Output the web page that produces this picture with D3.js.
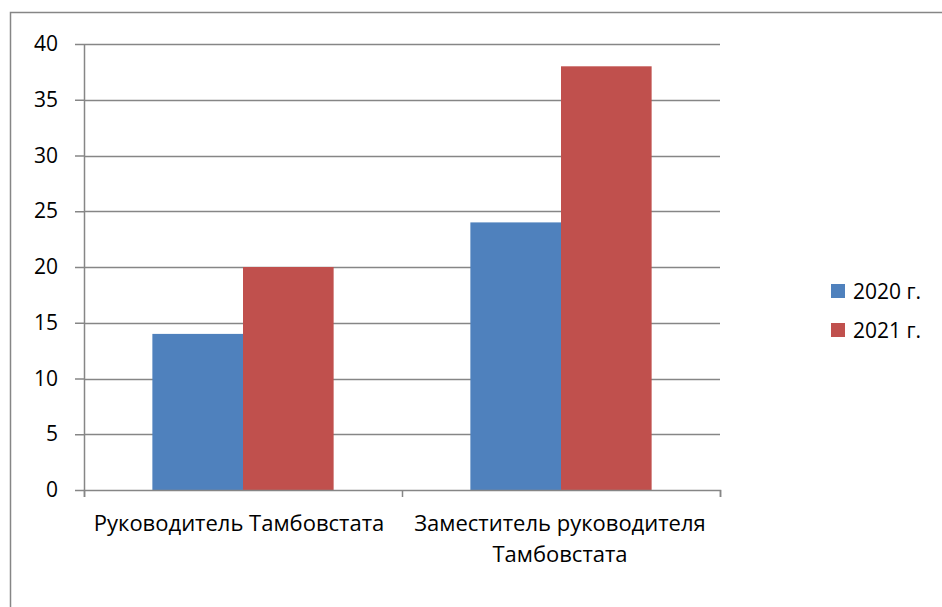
<!DOCTYPE html>
<html>
<head>
<meta charset="utf-8">
<script src="https://cdn.jsdelivr.net/npm/d3@7"></script>
<style>
  body { margin: 0; background: #fff; }
  text { font-family: "Open Sans", "DejaVu Sans", sans-serif; fill: #000; }
</style>
</head>
<body>
<div id="chart"></div>
<script>
const categories = [["Руководитель Тамбовстата"], ["Заместитель руководителя", "Тамбовстата"]];
const seriesNames = ["2020 г.", "2021 г."];
const values2020 = [14, 24];
const values2021 = [20, 38];
const yTicks = [0, 5, 10, 15, 20, 25, 30, 35, 40];
const colors = ["#4F81BD", "#C0504D"];

const W = 942, H = 607;
const margin = {top: 44, left: 84, right: 222, bottom: 117};
const width = W - margin.left - margin.right;
const height = H - margin.top - margin.bottom;

const svg = d3.select("#chart").append("svg")
    .attr("width", W).attr("height", H);

// outer chart border (runs off the right and bottom)
svg.append("rect")
    .attr("x", 10.5).attr("y", 12.5)
    .attr("width", 940).attr("height", 600)
    .attr("fill", "none").attr("stroke", "#868686").attr("stroke-width", 1.5);

const g = svg.append("g").attr("transform", `translate(${margin.left},${margin.top})`);

const y = d3.scaleLinear().domain([0, 40]).range([height, 0]);
const x0 = d3.scaleBand().domain(d3.range(categories.length)).range([0, width]).paddingInner(0.43).paddingOuter(0.215);
const x1 = d3.scaleBand().domain(d3.range(seriesNames.length)).range([0, x0.bandwidth()]);

// gridlines
g.append("g").selectAll("line").data(yTicks.filter(d => d > 0)).enter().append("line")
    .attr("x1", 0).attr("x2", width)
    .attr("y1", d => Math.round(y(d)) + 0.5).attr("y2", d => Math.round(y(d)) + 0.5)
    .attr("stroke", "#868686").attr("stroke-width", 1.5);

// bars
const series = [values2020, values2021];
series.forEach(function(vals, s) {
    g.selectAll(".bar" + s).data(vals).enter().append("rect")
        .attr("class", "bar" + s)
        .attr("x", (d, i) => x0(i) + x1(s))
        .attr("width", x1.bandwidth())
        .attr("y", d => y(d))
        .attr("height", d => height - y(d))
        .attr("fill", colors[s]);
});

// y axis
const yAxis = g.append("g")
    .call(d3.axisLeft(y).tickValues(yTicks).tickSize(9).tickPadding(17));
yAxis.selectAll("line, path").attr("stroke", "#868686").attr("stroke-width", 1.5);
yAxis.select(".domain").attr("d", `M0.5,0V${height}`);
yAxis.selectAll("text").style("font-family", "'Open Sans', sans-serif").style("font-size", "21px").attr("fill", "#000");

// x axis
const xTickScale = d3.scaleLinear().domain([0, categories.length]).range([0, width]);
const xAxis = g.append("g").attr("transform", `translate(0,${height})`)
    .call(d3.axisBottom(xTickScale).ticks(categories.length).tickSize(7).tickSizeOuter(7).tickFormat(""));
xAxis.selectAll("line, path").attr("stroke", "#868686").attr("stroke-width", 1.5);

// category labels
categories.forEach(function(lines, i) {
    const cx = x0(i) + x0.bandwidth() / 2 - (i === 0 ? 4 : 1);
    const t = g.append("text")
        .attr("x", cx)
        .attr("y", height + 41)
        .attr("text-anchor", "middle")
        .style("font-size", "22px");
    lines.forEach(function(line, k) {
        t.append("tspan").attr("x", cx).attr("dy", k === 0 ? 0 : 31).text(line);
    });
});

// legend
const legend = svg.append("g").attr("transform", "translate(831,284)");
seriesNames.forEach(function(name, i) {
    const row = legend.append("g").attr("transform", `translate(0,${i * 39})`);
    row.append("rect").attr("width", 14).attr("height", 14).attr("fill", colors[i]);
    row.append("text").attr("x", 22).attr("y", 14.5).style("font-size", "21px").text(name);
});
</script>
</body>
</html>
